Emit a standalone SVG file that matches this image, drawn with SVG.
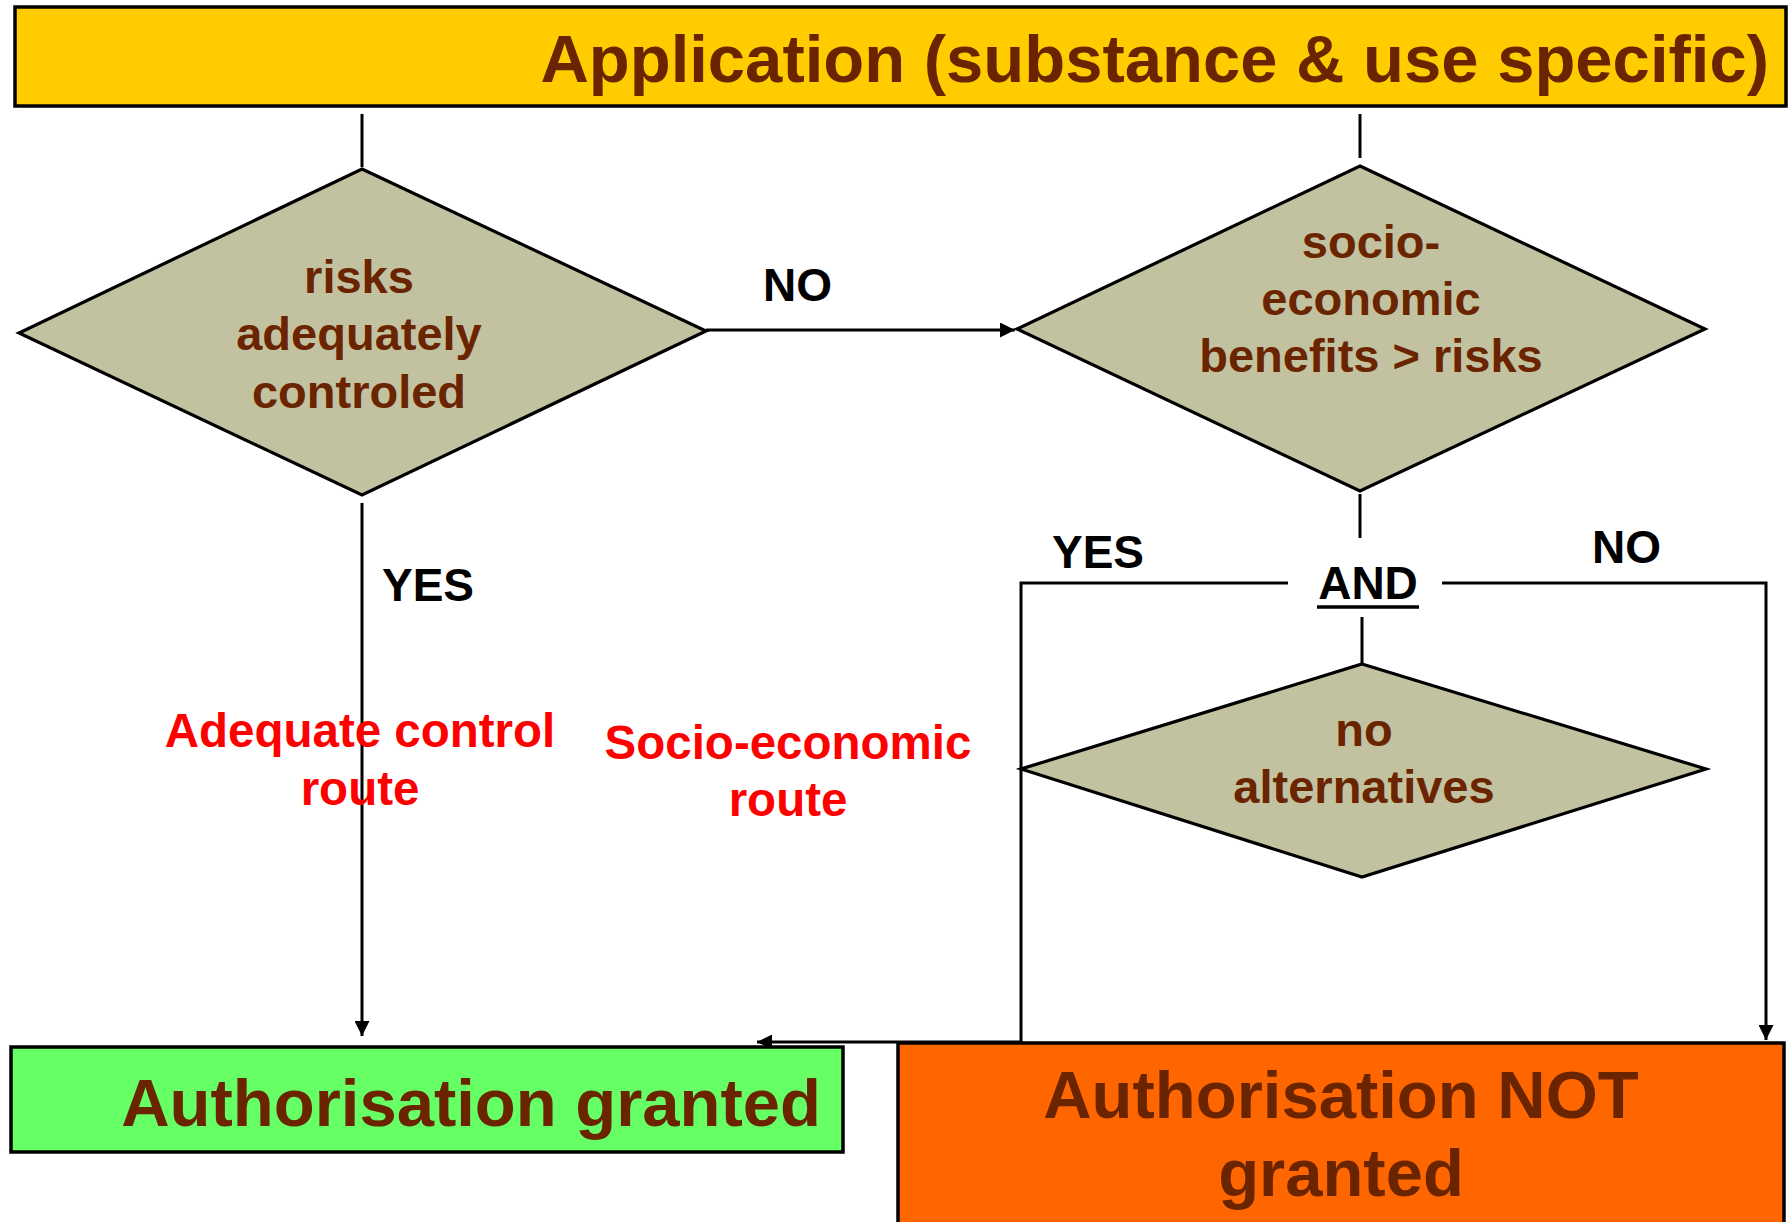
<svg xmlns="http://www.w3.org/2000/svg" width="1792" height="1222" viewBox="0 0 1792 1222">
<style>
.box{stroke:#000;stroke-width:3.5}
.dia{fill:#C2C2A0;stroke:#000;stroke-width:3.2}
.t{font-family:"Liberation Sans",Arial,sans-serif;font-weight:bold;fill:#6B2400}
.lbl{font-family:"Liberation Sans",Arial,sans-serif;font-weight:bold;fill:#000;font-size:46px}
.red{font-family:"Liberation Sans",Arial,sans-serif;font-weight:bold;fill:#FF0000;font-size:47.5px;text-anchor:middle}
.c{fill:none;stroke:#000;stroke-width:3}
</style>
<defs>
<marker id="ah" viewBox="0 0 10 10" refX="10" refY="5" markerWidth="5" markerHeight="5" orient="auto" markerUnits="strokeWidth">
<path d="M0,0 L10,5 L0,10 z" fill="#000"/>
</marker>
</defs>
<rect width="1792" height="1222" fill="#fff"/>
<g id="connectors">
<line class="c" x1="362" y1="114" x2="362" y2="167"/>
<line class="c" x1="1360" y1="114" x2="1360" y2="158"/>
<line class="c" x1="706" y1="330" x2="1015" y2="330" marker-end="url(#ah)"/>
<line class="c" x1="362" y1="503" x2="362" y2="1036" marker-end="url(#ah)"/>
<line class="c" x1="1360" y1="494" x2="1360" y2="538"/>
<polyline class="c" points="1288,583 1021,583 1021,1042 757,1042" marker-end="url(#ah)"/>
<polyline class="c" points="1442,583 1766,583 1766,1040" marker-end="url(#ah)"/>
<line class="c" x1="1362" y1="617" x2="1362" y2="663"/>
</g>
<g id="header">
<rect class="box" x="15" y="7" width="1771" height="99" fill="#FFCC00"/>
<text class="t" x="1769" y="82" font-size="67" text-anchor="end">Application (substance &amp; use specific)</text>
</g>
<g id="d1">
<polygon class="dia" points="362,169 706,331 362,495 19,333"/>
<text class="t" font-size="47" text-anchor="middle"><tspan x="359" y="293">risks</tspan><tspan x="359" y="350">adequately</tspan><tspan x="359" y="408">controled</tspan></text>
</g>
<g id="d2">
<polygon class="dia" points="1360,166 1705,329 1360,491 1017,329"/>
<text class="t" font-size="47" text-anchor="middle"><tspan x="1371" y="258">socio-</tspan><tspan x="1371" y="315">economic</tspan><tspan x="1371" y="372">benefits &gt; risks</tspan></text>
</g>
<g id="and">
<text class="lbl" x="1368" y="599" text-anchor="middle">AND</text>
<line x1="1317" y1="607" x2="1419" y2="607" stroke="#000" stroke-width="3.5"/>
</g>
<g id="d3">
<polygon class="dia" points="1362,664 1706,769 1362,877 1021,769"/>
<text class="t" font-size="47" text-anchor="middle"><tspan x="1364" y="746">no</tspan><tspan x="1364" y="803">alternatives</tspan></text>
</g>
<g id="labels">
<text class="lbl" x="763" y="301">NO</text>
<text class="lbl" x="382" y="601">YES</text>
<text class="lbl" x="1052" y="568">YES</text>
<text class="lbl" x="1592" y="563">NO</text>
<text class="red"><tspan x="360" y="747">Adequate control</tspan><tspan x="360" y="805">route</tspan></text>
<text class="red"><tspan x="788" y="759">Socio-economic</tspan><tspan x="788" y="816">route</tspan></text>
</g>
<g id="granted">
<rect class="box" x="11" y="1047" width="832" height="105" fill="#66FF66"/>
<text class="t" x="821" y="1126" font-size="67" text-anchor="end">Authorisation granted</text>
</g>
<g id="notgranted">
<rect class="box" x="898" y="1043" width="886" height="190" fill="#FF6600"/>
<text class="t" font-size="67" text-anchor="middle"><tspan x="1341" y="1118">Authorisation NOT</tspan><tspan x="1341" y="1196">granted</tspan></text>
</g>
</svg>
